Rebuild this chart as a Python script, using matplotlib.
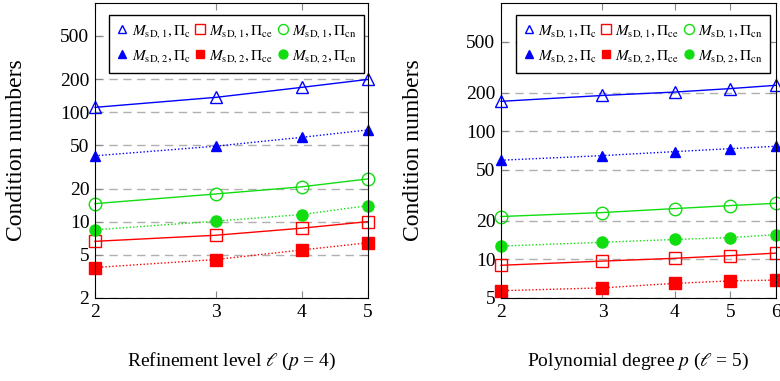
import matplotlib
matplotlib.use('Agg')
import matplotlib.pyplot as plt
from matplotlib.lines import Line2D
from matplotlib.ticker import FixedLocator, NullLocator, NullFormatter

plt.rcParams['font.family'] = ['Liberation Serif', 'DejaVu Serif']
plt.rcParams['mathtext.fontset'] = 'stix'

# left panel: refinement level, p = 4
levels = [2, 3, 4, 5]
lev_m1_c = [111, 137, 169, 200]
lev_m2_c = [40, 49, 59, 69]
lev_m1_ce = [6.6, 7.5, 8.7, 10.0]
lev_m2_ce = [3.8, 4.5, 5.5, 6.4]
lev_m1_cn = [14.6, 17.9, 20.8, 24.6]
lev_m2_cn = [8.4, 10.1, 11.6, 14.0]

# right panel: polynomial degree, l = 5
degrees = [2, 3, 4, 5, 6]
deg_m1_c = [171, 190, 202, 215, 228]
deg_m2_c = [59.4, 64.5, 69.3, 73.1, 76.3]
deg_m1_ce = [9.0, 9.7, 10.2, 10.7, 11.2]
deg_m2_ce = [5.7, 6.0, 6.5, 6.8, 6.9]
deg_m1_cn = [21.6, 23.2, 24.9, 26.3, 27.4]
deg_m2_cn = [12.7, 13.6, 14.3, 14.8, 15.6]

left_yticks = [2, 5, 10, 20, 50, 100, 200, 500]
right_yticks = [5, 10, 20, 50, 100, 200, 500]

BLUE, RED, GREEN = '#0000ff', '#ff0000', '#11dd11'

labels = {
    'm1c': r'$M_{\mathrm{sD},1}, \Pi_{\mathrm{c}}$',
    'm2c': r'$M_{\mathrm{sD},2}, \Pi_{\mathrm{c}}$',
    'm1ce': r'$M_{\mathrm{sD},1}, \Pi_{\mathrm{ce}}$',
    'm2ce': r'$M_{\mathrm{sD},2}, \Pi_{\mathrm{ce}}$',
    'm1cn': r'$M_{\mathrm{sD},1}, \Pi_{\mathrm{cn}}$',
    'm2cn': r'$M_{\mathrm{sD},2}, \Pi_{\mathrm{cn}}$',
}


def draw(ax, x, m1c, m2c, m1ce, m2ce, m1cn, m2cn, ylim, yticks, xlabel, ylab_x):
    h = {}
    h['m1c'], = ax.plot(x, m1c, color=BLUE, lw=1, ls='-', marker='^', ms=8,
                        mfc='none', mec=BLUE, clip_on=False)
    h['m2c'], = ax.plot(x, m2c, color=BLUE, lw=1, ls=(0, (1, 1.5)), marker='^', ms=7,
                        mfc=BLUE, mec=BLUE, clip_on=False)
    h['m1ce'], = ax.plot(x, m1ce, color=RED, lw=1, ls='-', marker='s', ms=9,
                         mfc='none', mec=RED, clip_on=False)
    h['m2ce'], = ax.plot(x, m2ce, color=RED, lw=1, ls=(0, (1, 1.5)), marker='s', ms=8,
                         mfc=RED, mec=RED, clip_on=False)
    h['m1cn'], = ax.plot(x, m1cn, color=GREEN, lw=1, ls='-', marker='o', ms=9,
                         mfc='none', mec=GREEN, clip_on=False)
    h['m2cn'], = ax.plot(x, m2cn, color=GREEN, lw=1, ls=(0, (1, 1.5)), marker='o', ms=8,
                         mfc=GREEN, mec=GREEN, clip_on=False)

    ax.set_xscale('log')
    ax.set_yscale('log')
    ax.set_xlim(x[0], x[-1])
    ax.set_ylim(*ylim)
    ax.xaxis.set_major_locator(FixedLocator(x))
    ax.xaxis.set_minor_locator(NullLocator())
    ax.set_xticklabels([str(v) for v in x])
    ax.yaxis.set_major_locator(FixedLocator(yticks))
    ax.yaxis.set_minor_locator(NullLocator())
    ax.yaxis.set_minor_formatter(NullFormatter())
    ax.set_yticklabels([str(v) for v in yticks])
    ax.tick_params(direction='in', top=True, right=True, length=5,
                   color='#888888', labelsize=14, pad=4)
    ax.grid(axis='y', ls=(0, (6, 4)), color='#b0b0b0', lw=1)
    ax.set_axisbelow(True)
    ax.set_ylabel('Condition numbers', fontsize=17)
    ax.yaxis.set_label_coords(ylab_x, 0.5)
    ax.set_xlabel(xlabel, fontsize=14, labelpad=22)

    order = ['m1c', 'm2c', 'm1ce', 'm2ce', 'm1cn', 'm2cn']
    proxies = []
    for k in order:
        ln = h[k]
        proxies.append(Line2D([], [], ls='none', marker=ln.get_marker(),
                              ms=ln.get_markersize() * 0.8, mfc=ln.get_mfc(),
                              mec=ln.get_mec()))
    leg = ax.legend(proxies, [labels[k] for k in order], ncol=3,
                    loc='upper left', bbox_to_anchor=(0.025, 0.985),
                    fontsize=11, handlelength=0.7, handletextpad=0.25,
                    columnspacing=0.3, borderpad=0.5, labelspacing=0.55,
                    fancybox=False, edgecolor='black', framealpha=1)
    leg.get_frame().set_linewidth(1)


fig = plt.figure(figsize=(7.8, 3.81), dpi=100)
ax1 = fig.add_axes([95 / 780, 1 - 298 / 381, 273 / 780, 295 / 381])
ax2 = fig.add_axes([501 / 780, 1 - 298 / 381, 275 / 780, 295 / 381])

draw(ax1, levels, lev_m1_c, lev_m2_c, lev_m1_ce, lev_m2_ce, lev_m1_cn, lev_m2_cn,
     (2, 1000), left_yticks, r'Refinement level $\ell$ ($p$ = 4)', -0.25)
draw(ax2, degrees, deg_m1_c, deg_m2_c, deg_m1_ce, deg_m2_ce, deg_m1_cn, deg_m2_cn,
     (5, 1000), right_yticks, r'Polynomial degree $p$ ($\ell$ = 5)', -0.28)

fig.savefig('out.png', dpi=100)
